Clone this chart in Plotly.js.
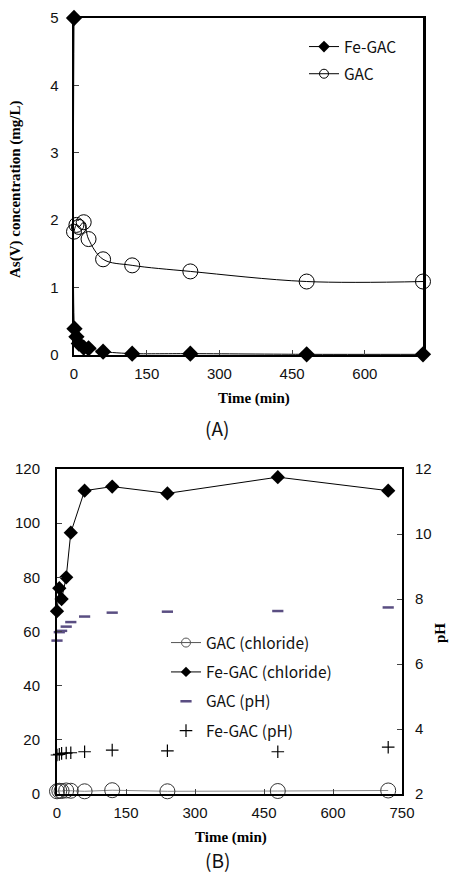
<!DOCTYPE html>
<html>
<head>
<meta charset="utf-8">
<script src="https://cdn.plot.ly/plotly-3.0.1.min.js"></script>
<style>html,body{margin:0;padding:0;background:#fff;}#chart{width:450px;height:872px;}</style>
</head>
<body>
<div id="chart"></div>
<script>
// ---- Data: panel (A) As(V) concentration (mg/L) vs time (min)
const timeA_Fe = [0, 1, 5, 10, 20, 30, 60, 120, 240, 480, 720];
const asFeGAC  = [5.0, 0.39, 0.27, 0.17, 0.11, 0.10, 0.05, 0.02, 0.02, 0.01, 0.01];
const timeA_GAC = [0, 5, 10, 20, 30, 60, 120, 240, 480, 720];
const asGAC     = [1.83, 1.93, 1.90, 1.97, 1.72, 1.42, 1.33, 1.24, 1.09, 1.09];

// ---- Data: panel (B) chloride (left axis) and pH (right axis) vs time (min)
const timeB = [0, 5, 10, 20, 30, 60, 120, 240, 480, 720];
const chlorideGAC   = [1.0, 1.2, 1.1, 1.3, 1.2, 1.0, 1.4, 1.0, 1.1, 1.3];
const chlorideFeGAC = [67.5, 76, 72, 80, 96.5, 112, 113.5, 111, 117, 112];
const pHGAC   = [6.72, 6.98, 7.02, 7.15, 7.29, 7.46, 7.58, 7.61, 7.63, 7.74];
const pHFeGAC = [3.20, 3.22, 3.25, 3.26, 3.27, 3.30, 3.35, 3.33, 3.30, 3.44];

// ---- Labels
const legendA = ['Fe-GAC', 'GAC'];
const legendB = ['GAC (chloride)', 'Fe-GAC (chloride)', 'GAC (pH)', 'Fe-GAC (pH)'];
const ticksA_x = [0, 150, 300, 450, 600];
const ticksB_x = [0, 150, 300, 450, 600, 750];

const W = 450, H = 872;
const px = v => v / W;
const py = v => 1 - v / H;

const PURPLE = '#5a4e82';
const tickFont = {family: 'Liberation Sans, Arial, sans-serif', size: 15, color: '#111'};
const serifBold = {family: 'Liberation Serif, Times New Roman, serif', size: 15, color: '#000', weight: 'bold'};
const korFont = {family: 'Noto Sans CJK KR, Noto Sans, sans-serif', size: 15.5, color: '#111'};

const traces = [
  // Panel A
  {x: timeA_Fe, y: asFeGAC, xaxis: 'x', yaxis: 'y', type: 'scatter', mode: 'lines+markers',
   line: {color: '#000', width: 1, shape: 'spline', smoothing: 0.6},
   marker: {symbol: 'diamond', size: 12.5, color: '#000'}, showlegend: false, cliponaxis: false},
  {x: timeA_GAC, y: asGAC, xaxis: 'x', yaxis: 'y', type: 'scatter', mode: 'lines+markers',
   line: {color: '#000', width: 1, shape: 'spline', smoothing: 1},
   marker: {symbol: 'circle-open', size: 15, color: '#000', line: {width: 1, color: '#000'}}, showlegend: false, cliponaxis: false},
  // Panel A legend entries
  {x: [null], y: [null], xaxis: 'x', yaxis: 'y', type: 'scatter', mode: 'lines+markers', name: legendA[0],
   legend: 'legend', legendgroup: 'a1', line: {color: '#000', width: 1}, marker: {symbol: 'diamond', size: 9, color: '#000'}},
  {x: [null], y: [null], xaxis: 'x', yaxis: 'y', type: 'scatter', mode: 'lines+markers', name: legendA[1],
   legend: 'legend', legendgroup: 'a2', line: {color: '#000', width: 1}, marker: {symbol: 'circle-open', size: 9, color: '#000', line: {width: 1}}},

  // Panel B
  {x: timeB, y: chlorideGAC, xaxis: 'x2', yaxis: 'y2', type: 'scatter', mode: 'lines+markers',
   line: {color: '#888', width: 1},
   marker: {symbol: 'circle-open', size: 15, color: '#333', line: {width: 1, color: '#333'}}, showlegend: false, cliponaxis: false},
  {x: timeB, y: chlorideFeGAC, xaxis: 'x2', yaxis: 'y2', type: 'scatter', mode: 'lines+markers',
   line: {color: '#000', width: 1},
   marker: {symbol: 'diamond', size: 11, color: '#000'}, showlegend: false, cliponaxis: false},
  {x: timeB, y: pHGAC, xaxis: 'x2', yaxis: 'y3', type: 'scatter', mode: 'markers',
   marker: {symbol: 'line-ew', size: 8, color: PURPLE, line: {width: 2.5, color: PURPLE}}, showlegend: false, cliponaxis: false},
  {x: timeB, y: pHFeGAC, xaxis: 'x2', yaxis: 'y3', type: 'scatter', mode: 'markers',
   marker: {symbol: 'cross-thin', size: 9, color: '#000', line: {width: 1.2, color: '#000'}}, showlegend: false, cliponaxis: false},
  // Panel B legend entries
  {x: [null], y: [null], xaxis: 'x2', yaxis: 'y2', type: 'scatter', mode: 'lines+markers', name: legendB[0],
   legend: 'legend2', legendgroup: 'b1', line: {color: '#555', width: 1}, marker: {symbol: 'circle-open', size: 9, color: '#555', line: {width: 1}}},
  {x: [null], y: [null], xaxis: 'x2', yaxis: 'y2', type: 'scatter', mode: 'lines+markers', name: legendB[1],
   legend: 'legend2', legendgroup: 'b2', line: {color: '#000', width: 1}, marker: {symbol: 'diamond', size: 8, color: '#000'}},
  {x: [null], y: [null], xaxis: 'x2', yaxis: 'y3', type: 'scatter', mode: 'markers', name: legendB[2],
   legend: 'legend2', legendgroup: 'b3', marker: {symbol: 'line-ew', size: 8, color: PURPLE, line: {width: 2.5, color: PURPLE}}},
  {x: [null], y: [null], xaxis: 'x2', yaxis: 'y3', type: 'scatter', mode: 'markers', name: legendB[3],
   legend: 'legend2', legendgroup: 'b4', marker: {symbol: 'cross-thin', size: 9, color: '#000', line: {width: 1.2, color: '#000'}}}
];

const axisCommon = {
  showgrid: false, zeroline: false, showline: true, linecolor: '#000', linewidth: 2,
  ticks: 'inside', ticklen: 5, tickwidth: 1, tickcolor: '#444', tickfont: tickFont
};

const layout = {
  width: W, height: H, autosize: false,
  margin: {l: 0, r: 0, t: 0, b: 0, pad: 0},
  paper_bgcolor: '#fff', plot_bgcolor: '#fff',
  showlegend: true,
  xaxis: Object.assign({}, axisCommon, {domain: [px(74), px(423)], range: [0, 720], tickvals: ticksA_x,
    anchor: 'y', mirror: true, ticklabelstandoff: 4}),
  yaxis: Object.assign({}, axisCommon, {domain: [py(355), py(18)], range: [0, 5], dtick: 1,
    anchor: 'x', mirror: true, linewidth: 2.5, ticklabelstandoff: 10}),
  xaxis2: Object.assign({}, axisCommon, {domain: [px(57), px(402)], range: [0, 750], tickvals: ticksB_x,
    anchor: 'y2', mirror: true, ticklabelstandoff: 4}),
  yaxis2: Object.assign({}, axisCommon, {domain: [py(794), py(469)], range: [0, 120], dtick: 20,
    anchor: 'x2', ticklabelstandoff: 12}),
  yaxis3: Object.assign({}, axisCommon, {range: [2, 12], dtick: 2, overlaying: 'y2', side: 'right',
    anchor: 'x2', ticklabelstandoff: 8}),
  legend: {x: px(304), y: py(30), xanchor: 'left', yanchor: 'top', font: korFont,
    bgcolor: 'rgba(0,0,0,0)', tracegroupgap: 4, itemwidth: 30, traceorder: 'grouped'},
  legend2: {x: px(166), y: py(626), xanchor: 'left', yanchor: 'top', font: korFont,
    bgcolor: 'rgba(0,0,0,0)', tracegroupgap: 6.2, itemwidth: 30, traceorder: 'grouped'},
  annotations: [
    {text: 'As(V) concentration (mg/L)', x: px(16), y: py(190), xref: 'paper', yref: 'paper',
     textangle: -90, showarrow: false, xanchor: 'center', yanchor: 'middle', font: serifBold},
    {text: 'Time (min)', x: px(254), y: py(399), xref: 'paper', yref: 'paper',
     showarrow: false, xanchor: 'center', yanchor: 'middle', font: serifBold},
    {text: '(A)', x: px(217), y: py(427), xref: 'paper', yref: 'paper',
     showarrow: false, xanchor: 'center', yanchor: 'middle', font: {family: 'Noto Sans CJK KR, Noto Sans, sans-serif', size: 19, color: '#111'}},
    {text: 'Time (min)', x: px(231), y: py(837), xref: 'paper', yref: 'paper',
     showarrow: false, xanchor: 'center', yanchor: 'middle', font: serifBold},
    {text: '(B)', x: px(217), y: py(859), xref: 'paper', yref: 'paper',
     showarrow: false, xanchor: 'center', yanchor: 'middle', font: {family: 'Noto Sans CJK KR, Noto Sans, sans-serif', size: 19, color: '#111'}},
    {text: 'pH', x: px(440), y: py(633), xref: 'paper', yref: 'paper', textangle: -90,
     showarrow: false, xanchor: 'center', yanchor: 'middle', font: serifBold}
  ]
};

Plotly.newPlot('chart', traces, layout, {displayModeBar: false, staticPlot: true});
</script>
</body>
</html>
